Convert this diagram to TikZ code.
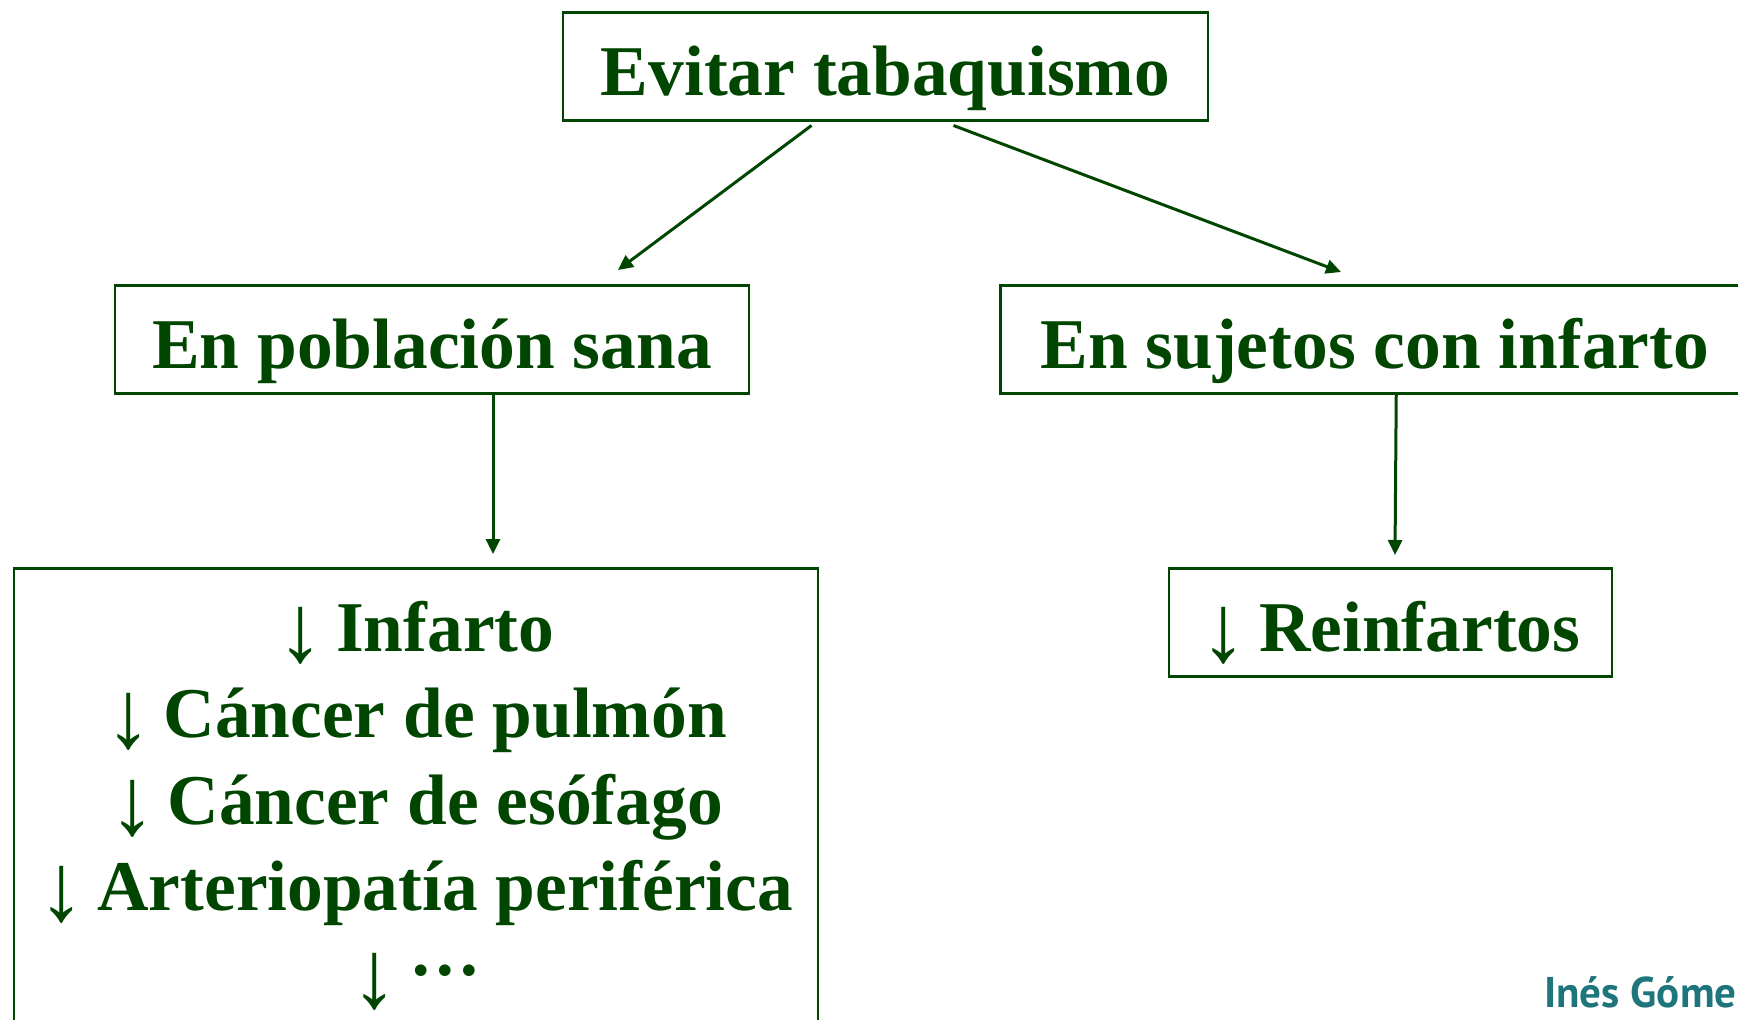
\documentclass[tikz,border=0pt]{standalone}
\usepackage{fontspec}
\setmainfont{Liberation Serif}
\newfontfamily\firma{PT Sans}
\usetikzlibrary{arrows.meta,positioning,calc}
\definecolor{verdeosc}{RGB}{0,70,0}
\definecolor{turquesa}{RGB}{30,118,124}
\newcommand{\baja}{\raisebox{-10pt}{\scalebox{1.3}[1.35]{\mdseries ↓}}\hspace{12pt}}

\begin{document}
\begin{tikzpicture}[x=1pt,y=-1pt,->,>={Triangle[length=15pt,width=14pt]},line width=3pt,draw=verdeosc]
\tikzstyle{caja}=[draw=verdeosc,line width=2.5pt,text=verdeosc,inner sep=0pt,
  font=\bfseries\fontsize{71.4}{86.5}\selectfont,text height=83pt,text depth=25pt]
\clip (0,0) rectangle (1738,1020);
\node[caja,minimum width=645pt,anchor=north] (evitar) at (885.5,11) {Evitar tabaquismo};
\node[caja,minimum width=634pt,anchor=north] (sana) at (432,284) {En población sana};
\node[caja,minimum width=749pt,anchor=north west] (sujetos) at (999,284) {En sujetos con infarto};
\node[caja,minimum width=443pt,anchor=north] (reinf) at (1390.5,567) {\baja Reinfartos};
\node[caja,minimum width=804pt,anchor=north,align=center,text height=429pt,text depth=100pt] (efectos) at (416,567)
  {\baja Infarto\\ \baja Cáncer de pulmón\\ \baja Cáncer de esófago\\
   \baja Arteriopatía periférica\\ \baja \raisebox{0.3em}{…}};
\node[text=turquesa,font=\firma\bfseries\fontsize{43}{43}\selectfont,anchor=base east,inner sep=0pt] (firma) at (1738,1007) {Inés Góme};
% conectores
\draw ([xshift=-74pt,yshift=-4pt]evitar.south) -- ([xshift=186pt,yshift=14pt]sana.north);
\draw ([xshift=68pt,yshift=-4pt]evitar.south) -- ([xshift=342pt,yshift=12pt]sujetos.north west);
\draw ([xshift=61pt]sana.south) -- ([xshift=77pt,yshift=13pt]efectos.north);
\draw ([xshift=21.5pt]sujetos.south) -- ([xshift=4.5pt,yshift=12pt]reinf.north);
\end{tikzpicture}
\end{document}
